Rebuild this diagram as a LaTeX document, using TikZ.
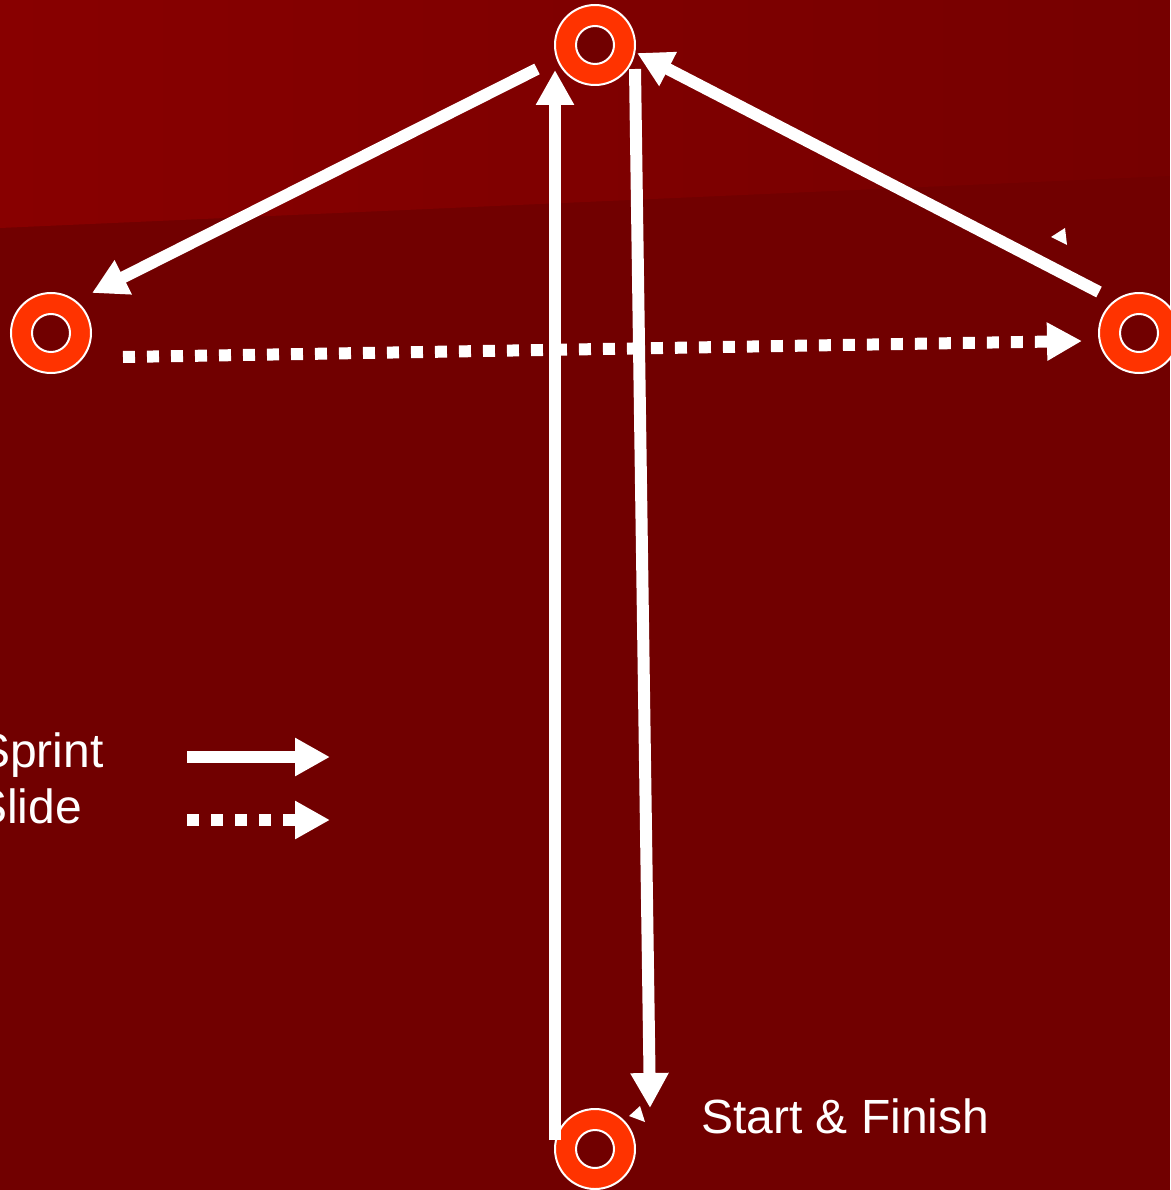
\documentclass[tikz,border=0pt]{standalone}
\usepackage{fontspec}
\setmainfont{Liberation Sans}
\usepackage{xcolor}
\usetikzlibrary{arrows.meta}
\definecolor{PitchDark}{HTML}{710000}
\definecolor{PitchLight}{HTML}{880000}
\definecolor{PitchMid}{HTML}{760000}
\definecolor{ConeRed}{HTML}{FF3300}

\begin{document}
\begin{tikzpicture}[
  x=1pt, y=-1pt,
  cone/.style={circle, minimum size=80pt, inner sep=0pt, fill=ConeRed, draw=white, line width=2pt,
    path picture={\draw[white, line width=2pt, fill=PitchDark] (path picture bounding box.center) circle (19pt);}},
  sprint/.style={draw=white, line width=12pt, -{Triangle[length=35pt, width=36pt]}},
  slide/.style={sprint, dash pattern=on 12pt off 12pt},
  legendtext/.style={text=white, inner sep=0pt, font=\fontsize{48}{54}\selectfont}
]
\useasboundingbox (0,0) rectangle (1170,1190);
\fill[PitchDark] (0,0) rectangle (1170,1190);
\shade[left color=PitchLight, right color=PitchMid] (0,0) -- (1170,0) -- (1170,176) -- (0,228) -- cycle;

\node[cone] (conetop) at (595,45) {};
\node[cone] (coneleft) at (51,333) {};
\node[cone] (coneright) at (1139,333) {};
\node[cone] (conebase) at (595,1149) {};

\draw[sprint] ([shift={(-58,24)}]conetop.center) -- ([shift={(41,-40)}]coneleft.center);
\draw[sprint] ([shift={(-40,-41)}]coneright.center) -- ([shift={(42,8)}]conetop.center);
\draw[sprint] ([shift={(-40,-9)}]conebase.center) -- ([shift={(-40,25)}]conetop.center);
\draw[sprint] ([shift={(40,24)}]conetop.center) -- ([shift={(55,-41)}]conebase.center);
\draw[slide] ([shift={(72,24)}]coneleft.center) -- ([shift={(-57,8)}]coneright.center);

% stray tips
\fill[white] (1051,237) -- (1065,228) -- (1067,245) -- cycle;
\fill[white] (629,1116) -- (640,1106) -- (645,1122) -- cycle;

% legend
\node[legendtext, anchor=base west] (sprinttext) at (-22,767) {Sprint};
\node[legendtext, anchor=base west] (slidetext) at (-25,823) {Slide};
\coordinate (sprintfrom) at (187,757);
\coordinate (sprintto) at (330,757);
\coordinate (slidefrom) at (187,820);
\coordinate (slideto) at (330,820);
\draw[sprint] (sprintfrom) -- (sprintto);
\draw[slide] (slidefrom) -- (slideto);

\node[legendtext, anchor=base west] (startfinish) at (701,1133) {Start \& Finish};
\end{tikzpicture}
\end{document}
